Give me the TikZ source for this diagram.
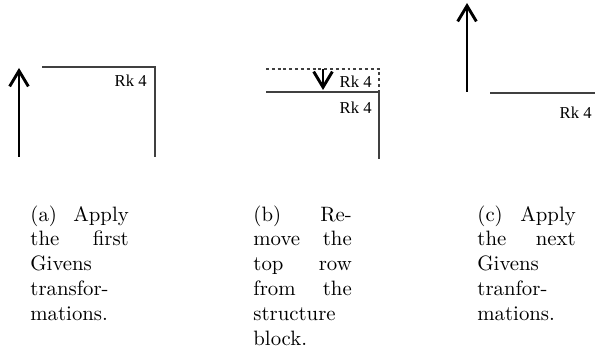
\documentclass[tikz,border=0pt]{standalone}
\usepackage{fontspec}
\newfontfamily\rkfont{Liberation Serif}[Scale=1]
\usetikzlibrary{arrows.meta}
\newlength\capw
\setlength\capw{47.3pt}
\begin{document}
\begin{tikzpicture}[x=0.4808pt,y=-0.4808pt,
  edge/.style={draw=black!75,line width=0.5pt},
  dashededge/.style={edge,dash pattern=on 1.4pt off 1.4pt},
  bigarrow/.style={line width=1.4pt,-{Straight Barb[length=7.5pt,width=9pt]}},
  rklabel/.style={font={\fontsize{8}{9.6}\rkfont\selectfont},anchor=base east,inner sep=0pt},
  captext/.style={anchor=north west,inner sep=0pt,align=left,font=\fontsize{10}{12}\selectfont}]
\useasboundingbox (0,0) rectangle (595,352);
% panel (a)
\coordinate (a1) at (42,67);
\coordinate (a2) at (155,67);
\coordinate (a3) at (155,157);
\draw[edge] (a1) -- (a2) -- (a3);
\coordinate (aS) at (19,157);
\coordinate (aE) at (19,68);
\draw[bigarrow] (aS) -- (aE);
\node[rklabel] (ark) at (147,87) {Rk 4};
% panel (b)
\coordinate (b1) at (266,69);
\coordinate (b2) at (379,69);
\coordinate (b3) at (379,92);
\coordinate (b4) at (266,92);
\coordinate (b5) at (379,159);
\draw[dashededge] (b1) -- (b2) -- (b3);
\draw[edge] (b4) -- (b3) -- (b5);
\coordinate (bS) at (323,69);
\coordinate (bE) at (323,90);
\draw[bigarrow] (bS) -- (bE);
\node[rklabel] (brk1) at (372,88) {Rk 4};
\node[rklabel] (brk2) at (372,113) {Rk 4};
% panel (c)
\coordinate (c1) at (490,93);
\coordinate (c2) at (595,93);
\draw[edge] (c1) -- (c2);
\coordinate (cS) at (467,92);
\coordinate (cE) at (467,3);
\draw[bigarrow] (cS) -- (cE);
\node[rklabel] (crk) at (592,118) {Rk 4};
% captions
\node[captext] (capa) at (30,205) {\makebox[\capw][s]{(a) Apply}\\\makebox[\capw][s]{the first}\\Givens\\transfor-\\mations.};
\node[captext] (capb) at (253,205) {\makebox[\capw][s]{(b)\hfill Re-}\\\makebox[\capw][s]{move the}\\\makebox[\capw][s]{top row}\\\makebox[\capw][s]{from the}\\structure\\block.};
\node[captext] (capc) at (477,205) {\makebox[\capw][s]{(c) Apply}\\\makebox[\capw][s]{the next}\\Givens\\tranfor-\\mations.};
\end{tikzpicture}
\end{document}
